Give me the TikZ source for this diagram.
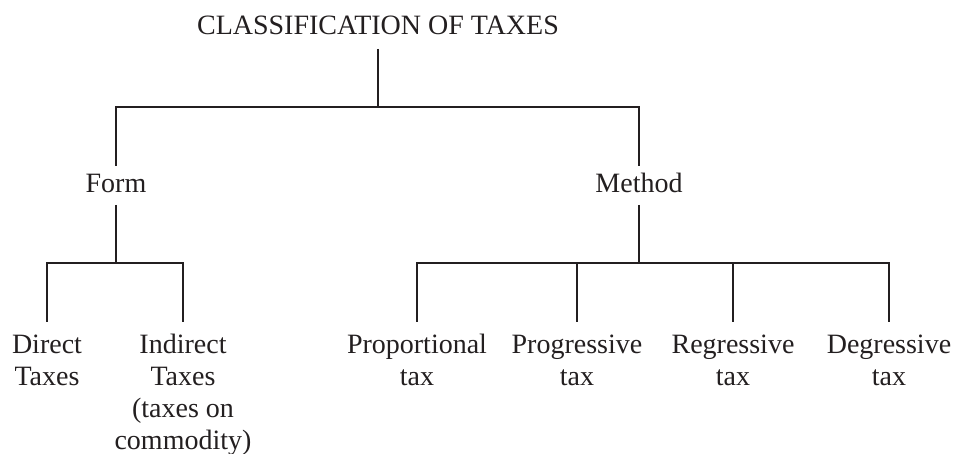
\documentclass[tikz,border=0pt]{standalone}
\usepackage{fontspec}
\setmainfont{Liberation Serif}
\definecolor{ink}{RGB}{35,31,32}
\newcommand{\stack}[1]{\setlength{\tabcolsep}{0pt}\begin{tabular}[t]{c}#1\end{tabular}}
\begin{document}
\begin{tikzpicture}[x=1pt,y=-1pt,
  every node/.style={text=ink,font=\fontsize{28}{32}\selectfont,inner sep=0pt,outer sep=0pt},
  leaf/.style={anchor=base,inner ysep=9.6pt},
  mid/.style={anchor=north,text height=27pt,text depth=12pt},
  conn/.style={draw=ink,line width=2.8pt,line join=miter}]
\useasboundingbox (0,0) rectangle (956,454);
\node[anchor=base,text depth=14pt] (title) at (378,35) {CLASSIFICATION OF TAXES};
\node[mid] (form) at (116,166) {Form};
\node[mid] (method) at (639,166) {Method};
\node[leaf] (direct) at (47,354) {\stack{Direct\\Taxes}};
\node[leaf] (indirect) at (183,354) {\stack{Indirect\\Taxes\\(taxes on\\commodity)}};
\node[leaf] (prop) at (417,354) {\stack{Proportional\\tax}};
\node[leaf] (prog) at (577,354) {\stack{Progressive\\tax}};
\node[leaf] (reg) at (733,354) {\stack{Regressive\\tax}};
\node[leaf] (deg) at (889,354) {\stack{Degressive\\tax}};
\coordinate (j0) at (378,107);
\coordinate (j1) at (116,263);
\coordinate (j2) at (639,263);
\draw[conn] (title.south) -- (j0);
\draw[conn] (form.north) -- (form.north |- j0) -- (method.north |- j0) -- (method.north);
\draw[conn] (form.south) -- (j1);
\draw[conn] (direct.north) -- (direct.north |- j1) -- (indirect.north |- j1) -- (indirect.north);
\draw[conn] (method.south) -- (j2);
\draw[conn] (prop.north) -- (prop.north |- j2) -- (deg.north |- j2) -- (deg.north);
\draw[conn] (prog.north) -- (prog.north |- j2);
\draw[conn] (reg.north) -- (reg.north |- j2);
\end{tikzpicture}
\end{document}
